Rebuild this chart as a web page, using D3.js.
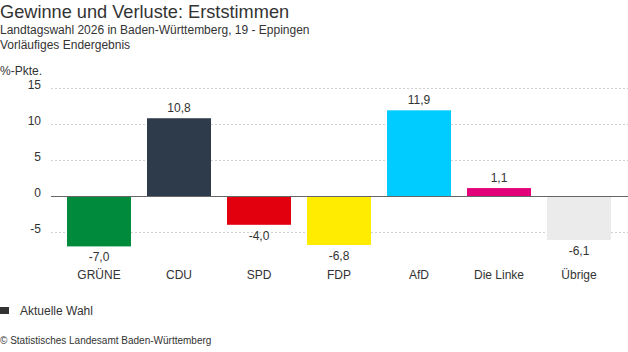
<!DOCTYPE html>
<html>
<head>
<meta charset="utf-8">
<script src="https://cdn.jsdelivr.net/npm/d3@7"></script>
<style>
  body { margin: 0; background: #fff; }
  svg { font-family: "Liberation Sans", Arial, sans-serif; }
</style>
</head>
<body>
<div id="chart"></div>
<script>
// Daten
const parties = ["GRÜNE", "CDU", "SPD", "FDP", "AfD", "Die Linke", "Übrige"];
const changes = [-7.0, 10.8, -4.0, -6.8, 11.9, 1.1, -6.1];
const partyColors = ["#008a3b", "#2d3b4a", "#e2000f", "#ffec00", "#00ccff", "#e3007b", "#ebebeb"];
const yTicks = [-5, 0, 5, 10, 15];

const width = 628, height = 352;
const svg = d3.select("#chart").append("svg")
    .attr("width", width)
    .attr("height", height);

const textColor = "#333";

// Titel
svg.append("text").attr("x", 0).attr("y", 18)
    .style("font-size", "18.2px").style("fill", textColor)
    .text("Gewinne und Verluste: Erststimmen");
svg.append("text").attr("x", 0).attr("y", 34)
    .style("font-size", "12px").style("fill", textColor)
    .text("Landtagswahl 2026 in Baden-Württemberg, 19 - Eppingen");
svg.append("text").attr("x", 0).attr("y", 49)
    .style("font-size", "12px").style("fill", textColor)
    .text("Vorläufiges Endergebnis");
svg.append("text").attr("x", 0).attr("y", 75)
    .style("font-size", "12px").style("fill", textColor)
    .text("%-Pkte.");

// Skalen
const x = d3.scaleBand()
    .domain(parties)
    .range([51, 627])
    .paddingInner(0.2)
    .paddingOuter(0.2);

const y = d3.scaleLinear()
    .domain([-5, 15])
    .range([232, 88]);

// Gitterlinien
svg.append("g").selectAll("line")
    .data(yTicks.filter(d => d !== 0))
    .enter().append("line")
    .attr("x1", 51).attr("x2", width)
    .attr("y1", d => y(d) + 0.5).attr("y2", d => y(d) + 0.5)
    .style("stroke", "#d0d0d0")
    .style("stroke-dasharray", "2,2");

// Achsenbeschriftung
svg.append("g").selectAll("text")
    .data(yTicks)
    .enter().append("text")
    .attr("x", 41)
    .attr("y", d => y(d) + 1)
    .attr("text-anchor", "end")
    .style("font-size", "12px").style("fill", textColor)
    .text(d => d);

// Balken
svg.append("g").selectAll("rect")
    .data(changes)
    .enter().append("rect")
    .attr("x", (d, i) => x(parties[i]))
    .attr("y", d => y(Math.max(0, d)))
    .attr("width", x.bandwidth())
    .attr("height", d => Math.abs(y(d) - y(0)))
    .style("fill", (d, i) => partyColors[i]);

// Nulllinie
svg.append("line")
    .attr("x1", 51).attr("x2", width)
    .attr("y1", y(0) + 0.5).attr("y2", y(0) + 0.5)
    .style("stroke", "#666")
    .style("stroke-width", 1);

// Werte
const fmt = v => v.toFixed(1).replace(".", ",");
svg.append("g").selectAll("text")
    .data(changes)
    .enter().append("text")
    .attr("x", (d, i) => x(parties[i]) + x.bandwidth() / 2)
    .attr("y", d => d >= 0 ? y(d) - 6 : y(d) + 15)
    .attr("text-anchor", "middle")
    .style("font-size", "12px").style("fill", textColor)
    .text(fmt);

// Parteinamen
svg.append("g").selectAll("text")
    .data(parties)
    .enter().append("text")
    .attr("x", d => x(d) + x.bandwidth() / 2)
    .attr("y", 279)
    .attr("text-anchor", "middle")
    .style("font-size", "12px").style("fill", textColor)
    .text(d => d);

// Legende
svg.append("rect")
    .attr("x", 0).attr("y", 307)
    .attr("width", 9).attr("height", 7)
    .style("fill", "#333");
svg.append("text").attr("x", 20).attr("y", 315)
    .style("font-size", "12px").style("fill", textColor)
    .text("Aktuelle Wahl");

// Quelle
svg.append("text").attr("x", 0).attr("y", 344)
    .style("font-size", "10px").style("fill", textColor)
    .text("© Statistisches Landesamt Baden-Württemberg");
</script>
</body>
</html>
